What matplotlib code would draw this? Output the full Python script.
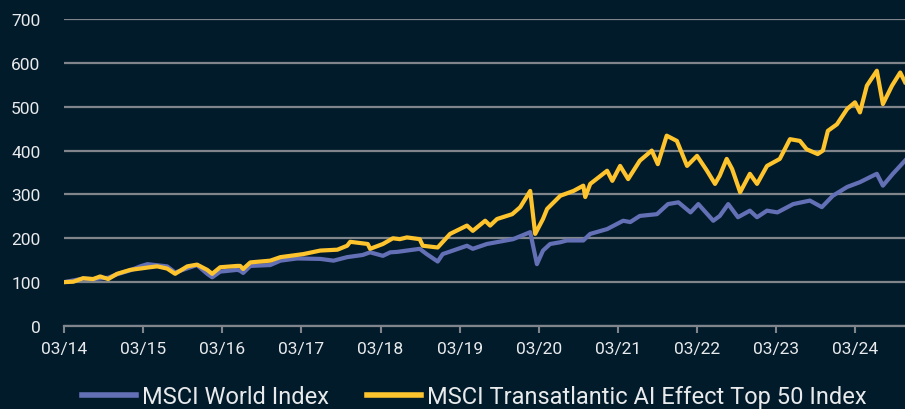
import matplotlib
matplotlib.use("Agg")
import matplotlib.pyplot as plt
import pandas as pd

# ---- data ----
world_dates = [
    "2014-03-01", "2014-05-28", "2014-07-13", "2014-09-21", "2014-11-01",
    "2015-01-01", "2015-02-16", "2015-03-21", "2015-06-20", "2015-07-27",
    "2015-11-05", "2015-12-22", "2016-01-14", "2016-02-20", "2016-05-09",
    "2016-05-22", "2016-06-05", "2016-07-08", "2016-10-08", "2016-11-24",
    "2017-02-09", "2017-05-27", "2017-07-27", "2017-09-28", "2017-12-09",
    "2018-01-12", "2018-03-12", "2018-04-15", "2018-05-17", "2018-08-29",
    "2018-09-30", "2018-11-20", "2018-12-13", "2019-04-04", "2019-05-01",
    "2019-07-05", "2019-11-03", "2020-01-21", "2020-02-21", "2020-03-20",
    "2020-04-22", "2020-06-08", "2020-07-08", "2020-09-22", "2020-10-24",
    "2021-01-10", "2021-03-25", "2021-04-27", "2021-06-10", "2021-08-28",
    "2021-10-18", "2021-12-05", "2022-01-30", "2022-03-07", "2022-05-15",
    "2022-06-14", "2022-07-23", "2022-09-06", "2022-10-31", "2022-12-03",
    "2023-01-18", "2023-03-07", "2023-05-19", "2023-08-04", "2023-09-28",
    "2023-11-18", "2024-01-23", "2024-03-22", "2024-05-22", "2024-06-08",
    "2024-07-06", "2024-08-21", "2024-10-16",
]
world_values = [
    100, 108, 107, 110, 118,
    127, 136, 141, 136, 122,
    139, 119, 111, 124, 128,
    126, 121, 137, 139, 149,
    154, 153, 149, 157, 162,
    168, 160, 168, 169, 176,
    164, 147, 164, 183, 176,
    187, 198, 214, 141, 172,
    187, 191, 195, 195, 210,
    221, 240, 237, 251, 255,
    278, 282, 259, 278, 240,
    251, 278, 248, 263, 248,
    263, 259, 278, 286, 271,
    297, 317, 328, 343, 347,
    320, 347, 377,
]

ai_dates = [
    "2014-03-01", "2014-04-13", "2014-05-28", "2014-07-13", "2014-08-15",
    "2014-09-21", "2014-11-01", "2015-01-01", "2015-02-16", "2015-04-02",
    "2015-05-05", "2015-06-20", "2015-07-27", "2015-09-21", "2015-11-05",
    "2015-12-22", "2016-01-14", "2016-02-20", "2016-05-09", "2016-05-22",
    "2016-06-05", "2016-07-08", "2016-10-08", "2016-11-24", "2017-03-10",
    "2017-05-27", "2017-08-14", "2017-09-28", "2017-10-12", "2018-01-01",
    "2018-01-12", "2018-03-12", "2018-04-27", "2018-05-29", "2018-07-01",
    "2018-08-29", "2018-09-12", "2018-11-20", "2019-01-16", "2019-04-04",
    "2019-05-01", "2019-06-27", "2019-07-20", "2019-08-21", "2019-10-30",
    "2019-12-06", "2020-01-21", "2020-02-13", "2020-03-20", "2020-04-08",
    "2020-06-08", "2020-08-08", "2020-09-22", "2020-10-01", "2020-10-24",
    "2021-01-10", "2021-02-03", "2021-03-11", "2021-04-17", "2021-06-10",
    "2021-08-04", "2021-09-01", "2021-10-12", "2021-11-28", "2022-01-14",
    "2022-03-01", "2022-04-16", "2022-05-23", "2022-06-14", "2022-07-16",
    "2022-08-10", "2022-09-16", "2022-10-31", "2022-12-03", "2023-01-18",
    "2023-03-18", "2023-05-04", "2023-06-19", "2023-07-20", "2023-09-09",
    "2023-10-03", "2023-10-26", "2023-12-07", "2024-01-23", "2024-02-28",
    "2024-03-22", "2024-04-23", "2024-06-08", "2024-07-06", "2024-08-17",
    "2024-09-24", "2024-10-16",
]
ai_values = [
    100, 101, 109, 107, 113,
    107, 119, 128, 131, 134,
    136, 131, 119, 136, 140,
    128, 119, 134, 137, 137,
    130, 145, 149, 157, 164,
    172, 174, 183, 192, 187,
    176, 187, 200, 198, 202,
    198, 183, 179, 210, 229,
    217, 240, 229, 244, 255,
    271, 308, 210, 244, 267,
    297, 308, 320, 294, 324,
    354, 331, 365, 335, 377,
    400, 369, 434, 422, 365,
    388, 354, 324, 343, 381,
    358, 305, 347, 324, 365,
    381, 426, 422, 403, 392,
    400, 445, 460, 495, 510,
    487, 548, 582, 506, 548,
    578, 556,
]

series_labels = ["MSCI World Index", "MSCI Transatlantic AI Effect Top 50 Index"]
x_tick_labels = ["03/14", "03/15", "03/16", "03/17", "03/18", "03/19",
                 "03/20", "03/21", "03/22", "03/23", "03/24"]
y_ticks = [0, 100, 200, 300, 400, 500, 600, 700]

# ---- styling ----
BG = "#021b2b"
GOLD = "#fec42d"
BLUE = "#6470b5"
GRID = "#80858b"
TXT = "#e8eaec"

plt.rcParams["font.family"] = ["Roboto", "DejaVu Sans"]

fig = plt.figure(figsize=(9.05, 4.10), dpi=100, facecolor=BG)
ax = fig.add_axes([64 / 905, 1 - 327 / 410, 1 - 64 / 905, (327 - 20) / 410])
ax.set_facecolor(BG)

wd = pd.to_datetime(world_dates)
ad = pd.to_datetime(ai_dates)

ax.plot(wd, world_values, color=BLUE, lw=3.0, solid_joinstyle="round",
        label=series_labels[0], zorder=3)
ax.plot(ad, ai_values, color=GOLD, lw=3.0, solid_joinstyle="round",
        label=series_labels[1], zorder=4)

ax.set_ylim(0, 700)
ax.set_yticks(y_ticks)
ax.set_xlim(pd.Timestamp("2014-03-01"), pd.Timestamp("2024-10-16"))
tick_pos = [pd.Timestamp(f"20{lbl[3:]}-03-01") for lbl in x_tick_labels]
ax.set_xticks(tick_pos)
ax.set_xticklabels(x_tick_labels)

ax.grid(axis="y", color=GRID, lw=1.6, zorder=0)
ax.set_axisbelow(True)
for s in ["top", "right", "left"]:
    ax.spines[s].set_visible(False)
ax.spines["bottom"].set_color(GRID)
ax.spines["bottom"].set_linewidth(1.6)

ax.tick_params(axis="y", length=0, pad=17, labelsize=12.5, labelcolor=TXT)
ax.tick_params(axis="x", length=5, width=1.5, color=GRID, pad=6,
               labelsize=12.5, labelcolor=TXT)

leg = fig.legend(loc="center", bbox_to_anchor=(474 / 905, 1 - 398 / 410),
                 ncol=2, frameon=False, fontsize=17, handlelength=2.3,
                 handletextpad=0.25, columnspacing=1.6, labelcolor=TXT)
for h in leg.get_lines():
    h.set_linewidth(4)

fig.savefig("out.png", dpi=100, facecolor=BG)
